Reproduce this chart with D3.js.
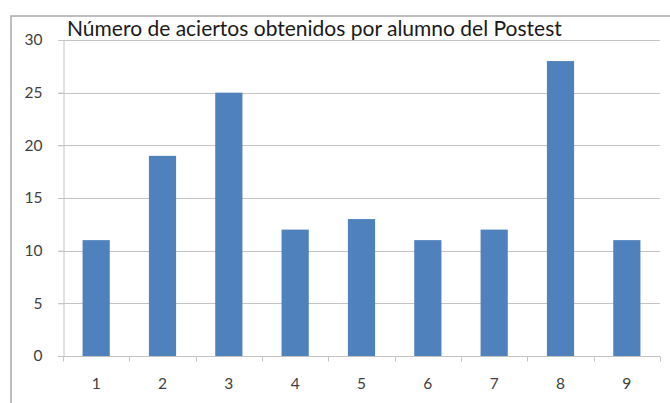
<!DOCTYPE html>
<html>
<head>
<meta charset="utf-8">
<script src="https://cdn.jsdelivr.net/npm/d3@7"></script>
<style>
  html, body { margin: 0; padding: 0; background: #fff; }
  svg { display: block; }
</style>
</head>
<body>
<svg id="chart" width="670" height="403"></svg>
<script>
// Aciertos por alumno en el postest
const alumnos = ["1", "2", "3", "4", "5", "6", "7", "8", "9"];
const aciertos = [11, 19, 25, 12, 13, 11, 12, 28, 11];
const yTicks = [0, 5, 10, 15, 20, 25, 30];
const titulo = "Número de aciertos obtenidos por alumno del Postest";

const W = 670, H = 403;
const margin = { left: 63, right: 10, top: 40, bottom: 47 };
const font = "Lato, 'Open Sans', sans-serif";

const svg = d3.select("#chart");

// chart-area frame (only top and left edges fall inside the view)
svg.append("path")
  .attr("d", `M11,${H} L11,16 L${W},16`)
  .attr("fill", "none")
  .attr("stroke", "#a9a9a9")
  .attr("stroke-width", 1.5);

const x = d3.scaleBand()
  .domain(alumnos)
  .range([margin.left, W - margin.right])
  .paddingInner(0.59)
  .paddingOuter(0.295);

const y = d3.scaleLinear()
  .domain([0, 30])
  .range([H - margin.bottom, margin.top]);

// horizontal gridlines
svg.append("g")
  .selectAll("line")
  .data(yTicks.filter(d => d > 0))
  .join("line")
  .attr("x1", margin.left - 5)
  .attr("x2", W - margin.right)
  .attr("y1", d => Math.round(y(d)) + 0.5)
  .attr("y2", d => Math.round(y(d)) + 0.5)
  .attr("stroke", "#c4c4c4")
  .attr("stroke-width", 1);

// y axis
const yAxis = svg.append("g")
  .attr("transform", `translate(${margin.left + 0.5},0)`)
  .call(d3.axisLeft(y).tickValues(yTicks).tickSize(5).tickPadding(16));
yAxis.select(".domain").attr("stroke", "#c4c4c4");
yAxis.selectAll(".tick line").attr("stroke", "#c4c4c4");
yAxis.selectAll("text")
  .attr("font-family", font)
  .attr("font-size", 15.5)
  .attr("fill", "#404040");

// bars
svg.append("g")
  .selectAll("rect")
  .data(aciertos)
  .join("rect")
  .attr("x", (d, i) => x(alumnos[i]))
  .attr("width", x.bandwidth())
  .attr("y", d => y(d))
  .attr("height", d => y(0) - y(d))
  .attr("fill", "#4f81bd");

// x axis with ticks between categories
const xEdges = d3.range(alumnos.length + 1).map(i => margin.left + i * (W - margin.right - margin.left) / alumnos.length);
const xAxisG = svg.append("g")
  .attr("transform", `translate(0,${Math.round(y(0)) + 0.5})`);
xAxisG.append("line")
  .attr("x1", margin.left - 5)
  .attr("x2", W - margin.right)
  .attr("stroke", "#c4c4c4");
xAxisG.selectAll("line.tk")
  .data(xEdges)
  .join("line")
  .attr("class", "tk")
  .attr("x1", d => Math.round(d) + 0.5)
  .attr("x2", d => Math.round(d) + 0.5)
  .attr("y1", 0)
  .attr("y2", 5)
  .attr("stroke", "#c4c4c4");
xAxisG.selectAll("text")
  .data(alumnos)
  .join("text")
  .attr("x", d => x(d) + x.bandwidth() / 2)
  .attr("y", 32)
  .attr("text-anchor", "middle")
  .attr("font-family", font)
  .attr("font-size", 15.5)
  .attr("fill", "#404040")
  .text(d => d);

// title
svg.append("text")
  .attr("x", 67)
  .attr("y", 36)
  .attr("font-family", font)
  .attr("font-size", 21)
  .attr("fill", "#1a1a1a")
  .text(titulo);
</script>
</body>
</html>
